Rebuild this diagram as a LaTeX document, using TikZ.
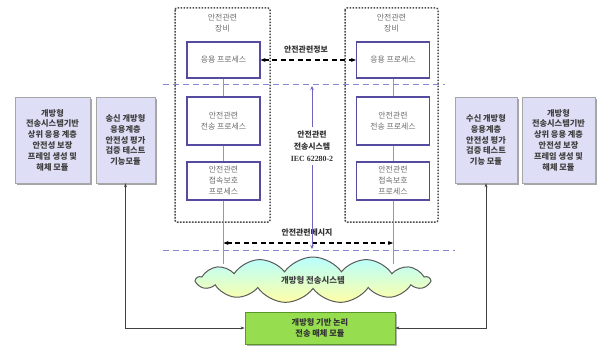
\documentclass[tikz,border=0pt]{standalone}
\usepackage{fontspec}
\setmainfont{Noto Sans CJK KR}
\newfontfamily\serifb{Liberation Serif}
\usetikzlibrary{shapes.symbols,shadows,arrows.meta}
\definecolor{boxline}{RGB}{85,75,160}
\definecolor{lav}{RGB}{222,222,246}
\definecolor{dashc}{RGB}{135,135,205}
\definecolor{txtgray}{RGB}{110,110,110}
\definecolor{grn}{RGB}{150,222,80}
\definecolor{grnline}{RGB}{90,150,40}
\definecolor{midarrow}{RGB}{110,100,190}
\begin{document}
\begin{tikzpicture}[x=1pt,y=-1pt,
  bigbox/.style={draw=gray!70,fill=lav,line width=0.6pt,align=center,
    font=\fontsize{8.2}{10.8}\selectfont\bfseries,text=black!75,
    drop shadow={shadow xshift=2pt,shadow yshift=-2pt,fill=gray!70,opacity=1},
    inner sep=1pt},
  proc/.style={draw=boxline,fill=white,line width=1.2pt,minimum width=73pt,
    align=center,font=\fontsize{7.9}{11}\selectfont,text=txtgray,inner sep=1pt},
  equip/.style={draw=black!70,dash pattern=on 1.6pt off 1.4pt,line width=1.5pt,rounded corners=2pt},
  sep/.style={draw=dashc,dash pattern=on 6pt off 4pt,line width=1pt},
  bd/.style={draw=black,dash pattern=on 5pt off 3.5pt,line width=1.3pt,{Stealth[length=5pt,width=4pt]}-{Stealth[length=5pt,width=4pt]}},
  thin/.style={draw=gray!80,line width=0.6pt},
  lbl/.style={font=\fontsize{7.9}{10}\selectfont\bfseries,text=black!80,align=center},
  conn/.style={draw=black!75,line width=0.7pt,{Stealth[length=4pt,width=3pt]}-{Stealth[length=4pt,width=3pt]}}
]
\useasboundingbox (0,0) rectangle (601,347);

% equipment dotted boxes
\draw[equip] (175,8) rectangle (270,222);
\draw[equip] (345,8) rectangle (438,222);
\node[font=\fontsize{7.9}{10.5}\selectfont,text=txtgray,align=center] (eqL) at (222.5,23) {안전관련\\장비};
\node[font=\fontsize{7.9}{10.5}\selectfont,text=txtgray,align=center] (eqR) at (391.5,23) {안전관련\\장비};

% separator lines
\coordinate (s1a) at (163,85); \coordinate (s1b) at (445,85);
\coordinate (s2a) at (163,250); \coordinate (s2b) at (455,250);
\draw[sep] (s1a) -- (s1b);
\draw[sep] (s2a) -- (s2b);

% process boxes
\node[proc,minimum height=36pt] (appL) at (223.5,60) {응용 프로세스};
\node[proc,minimum height=48pt] (trL) at (223.5,121) {안전관련\\전송 프로세스};
\node[proc,minimum height=38pt] (cnL) at (223.5,181) {안전관련\\접속보호\\프로세스};
\node[proc,minimum height=36pt] (appR) at (393,60) {응용 프로세스};
\node[proc,minimum height=48pt] (trR) at (393,121) {안전관련\\전송 프로세스};
\node[proc,minimum height=38pt] (cnR) at (393,181) {안전관련\\접속보호\\프로세스};

\coordinate (endL) at (223.5,264);
\coordinate (endR) at (393,264);
\draw[thin] (appL) -- (trL); \draw[thin] (trL) -- (cnL); \draw[thin] (cnL) -- (endL);
\draw[thin] (appR) -- (trR); \draw[thin] (trR) -- (cnR); \draw[thin] (cnR) -- (endR);

% cloud
\node[cloud,cloud puffs=13,cloud puff arc=110,aspect=5.2,draw=black!65,line width=1pt,
  top color=cyan!28,bottom color=yellow!35,minimum width=233pt,minimum height=46pt,
  font=\fontsize{8.4}{10}\selectfont\bfseries,text=black!75] (cloud) at (313,280) {개방형 전송시스템};

% info arrows
\draw[bd] (appL.east) -- (appR.west);
\node[lbl] (info) at (306,50) {안전관련정보};
\coordinate (mL) at (223.5,243);
\coordinate (mR) at (393,243);
\draw[bd] (mL) -- (mR);
\node[lbl] (msg) at (307,233) {안전관련메시지};

% middle label
\node[lbl,font=\fontsize{7.9}{12}\selectfont\bfseries] (mid) at (312,146)
  {안전관련\\전송시스템\\{\serifb\bfseries IEC 62280-2}};
\coordinate (tU) at (312,86);
\coordinate (tD) at (312,249);
\draw[draw=midarrow,line width=0.9pt,-{Stealth[length=4pt,width=3.5pt]}] (mid.north) -- (tU);
\draw[draw=midarrow,line width=0.9pt,-{Stealth[length=4pt,width=3.5pt]}] (mid.south) -- (tD);

% side boxes
\node[bigbox,minimum width=75pt,minimum height=86pt] (lb1) at (52.5,140)
  {개방형\\전송시스템기반\\상위 응용 계층\\안전성 보장\\프레임 생성 및\\해체 모듈};
\node[bigbox,minimum width=59pt,minimum height=86pt] (lb2) at (125.5,140)
  {송신 개방형\\응용계층\\안전성 평가\\검증 테스트\\기능모듈};
\node[bigbox,minimum width=62pt,minimum height=86pt] (rb1) at (486,140)
  {수신 개방형\\응용계층\\안전성 평가\\검증 테스트\\기능 모듈};
\node[bigbox,minimum width=73pt,minimum height=86pt] (rb2) at (558.5,140)
  {개방형\\전송시스템기반\\상위 응용 계층\\안전성 보장\\프레임 생성 및\\해체 모듈};

% green module
\node[draw=grnline,fill=grn,line width=0.8pt,minimum width=150pt,minimum height=32pt,
  align=center,font=\fontsize{8.2}{11}\selectfont\bfseries,text=black!80,
  drop shadow={shadow xshift=2pt,shadow yshift=-2pt,fill=gray!60,opacity=1}] (grnbox) at (320,328)
  {개방형 기반 논리\\전송 매체 모듈};

\draw[conn] (lb2.south) |- (grnbox.west);
\draw[conn] (rb1.south) |- (grnbox.east);
\end{tikzpicture}
\end{document}
